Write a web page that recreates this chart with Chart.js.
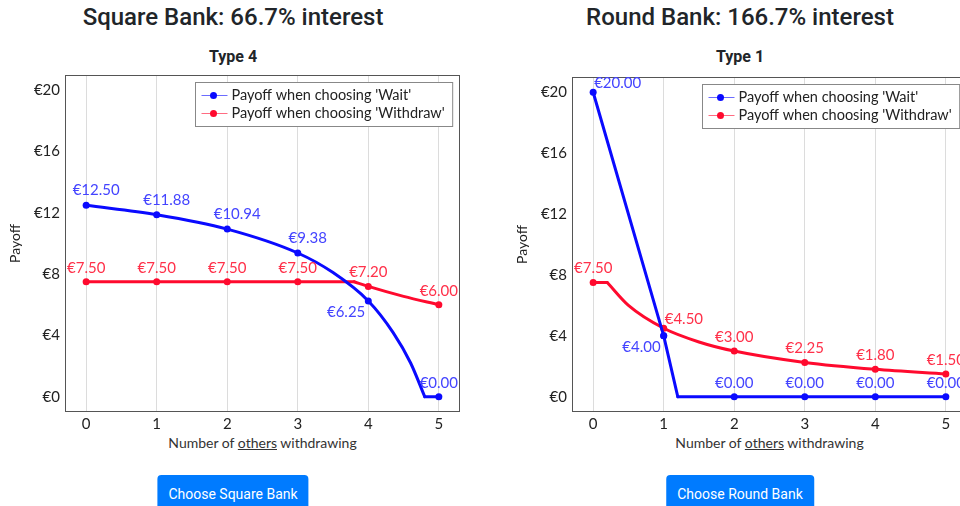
<!DOCTYPE html>
<html>
<head>
<meta charset="utf-8">
<script src="https://cdn.jsdelivr.net/npm/chart.js@4.4.0/dist/chart.umd.min.js"></script>
<style>
  html, body { margin: 0; padding: 0; background: #fff; }
  body { width: 960px; height: 506px; overflow: hidden; position: relative; font-family: Roboto, "Liberation Sans", sans-serif; color: #212529; }
  .col { position: absolute; top: 0; width: 466px; height: 506px; text-align: center; }
  .col h3 { margin: 0; font-size: 24px; font-weight: 500; line-height: 34px; }
  .col h4 { position: absolute; top: 47px; left: 0; right: 0; margin: 0; font-size: 16px; font-weight: 700; line-height: 20px; }
  .col button { position: absolute; top: 475px; left: 50%; transform: translateX(-50%); height: 38px; padding: 0 11px; border: none; border-radius: 4px; background: #007bff; color: #fff; font-family: Roboto, sans-serif; font-size: 14px; white-space: nowrap; }
  canvas { position: absolute; }
  .xtitle { position: absolute; top: 434px; width: 395px; text-align: center; font-family: Lato, sans-serif; font-size: 14px; line-height: 18px; color: #333; }
</style>
</head>
<body>
<div class="col" style="left:0">
  <h3>Square Bank: 66.7% interest</h3>
  <h4>Type 4</h4>
  <button>Choose Square Bank</button>
</div>
<div class="col" style="left:507px">
  <h3>Round Bank: 166.7% interest</h3>
  <h4>Type 1</h4>
  <button>Choose Round Bank</button>
</div>
<canvas id="squareChart" width="470" height="360" style="left:0;top:70px"></canvas>
<canvas id="roundChart" width="470" height="358" style="left:507px;top:72px"></canvas>
<div class="xtitle" style="left:65px">Number of <u>others</u> withdrawing</div>
<div class="xtitle" style="left:572px">Number of <u>others</u> withdrawing</div>
<script>
// x = number of others withdrawing, y = payoff in euro
const others = [0, 1, 2, 3, 4, 5];
const payoffTicks = [0, 4, 8, 12, 16, 20];

// Square Bank (Type 4)
const squareWaitX = [0, 1, 2, 3, 3.5, 4, 4.35, 4.6, 4.8, 5];
const squareWaitY = [12.5, 11.88, 10.94, 9.38, 8.1, 6.25, 4.2, 2.2, 0, 0];
const squareWithdrawX = [0, 1, 2, 3, 3.8, 4, 4.5, 5];
const squareWithdrawY = [7.5, 7.5, 7.5, 7.5, 7.5, 7.2, 6.55, 6.0];

// Round Bank (Type 1)
const roundWaitX = [0, 1, 1.2, 2, 3, 4, 5];
const roundWaitY = [20, 4, 0, 0, 0, 0, 0];
const roundWithdrawX = [0, 0.2, 0.5, 1, 1.5, 2, 3, 4, 5];
const roundWithdrawY = [7.5, 7.5, 6.0, 4.5, 3.6, 3.0, 2.25, 1.8, 1.5];

const BLUE = '#0a0aff';
const RED = '#ff0a2e';
const BLUE_TXT = '#4444ff';
const RED_TXT = '#ff3049';

Chart.defaults.font.family = 'Lato, sans-serif';
Chart.defaults.color = '#222';

// kinks = indexes where the curve has a corner (split into separate pieces)
function makeSeries(label, color, textColor, xs, ys, kinks, anchors) {
    return { label, color, textColor, xs, ys, kinks, anchors: anchors || {} };
}

function toDatasets(s) {
    const cuts = [0, ...s.kinks, s.xs.length - 1];
    const sets = [];
    for (let k = 0; k < cuts.length - 1; k++) {
        const data = [];
        for (let i = cuts[k]; i <= cuts[k + 1]; i++) {
            data.push({ x: s.xs[i], y: s.ys[i] });
        }
        sets.push({
            data: data,
            borderColor: s.color,
            backgroundColor: s.color,
            borderWidth: 3,
            borderCapStyle: 'round',
            borderJoinStyle: 'round',
            cubicInterpolationMode: 'monotone',
            pointRadius: ctx => (ctx.raw && others.includes(ctx.raw.x)) ? 3.5 : 0,
            pointHoverRadius: 0,
            pointBorderWidth: 0,
            pointBackgroundColor: s.color,
            fill: false
        });
    }
    return sets;
}

// frame, value labels and the legend box
function decor(seriesList) {
    return {
        id: 'decor',
        beforeDatasetsDraw(chart) {
            const a = chart.chartArea;
            const ctx = chart.ctx;
            ctx.save();
            ctx.strokeStyle = '#555';
            ctx.lineWidth = 1;
            ctx.strokeRect(a.left + 0.5, a.top + 0.5, a.right - a.left - 1, a.bottom - a.top - 1);
            ctx.restore();
        },
        afterDatasetsDraw(chart) {
            const ctx = chart.ctx;
            const xs = chart.scales.x, ys = chart.scales.y;
            ctx.save();
            ctx.font = '15px Lato';
            ctx.textBaseline = 'middle';
            seriesList.forEach(s => {
                ctx.fillStyle = s.textColor;
                s.xs.forEach((x, i) => {
                    if (!others.includes(x)) return;
                    const px = xs.getPixelForValue(x);
                    const py = ys.getPixelForValue(s.ys[i]);
                    const anchor = s.anchors[x] || 'above';
                    let tx = px, ty = py - 14;
                    ctx.textAlign = 'center';
                    if (anchor === 'aboveShift') { tx = px + 10; ty = py - 15; }
                    if (anchor === 'aboveRight') { tx = px + 1; ty = py - 9; ctx.textAlign = 'left'; }
                    if (anchor === 'belowLeft') { tx = px - 3; ty = py + 11; ctx.textAlign = 'right'; }
                    ctx.fillText('€' + s.ys[i].toFixed(2), tx, ty);
                });
            });

            // legend
            ctx.font = '14.5px Lato';
            const a = chart.chartArea;
            const tw = Math.max(...seriesList.map(s => ctx.measureText(s.label).width));
            const bw = 36 + tw + 8, bh = 44;
            const bx = Math.round(a.right - 8 - bw) + 0.5, by = a.top + 7.5;
            ctx.fillStyle = '#fff';
            ctx.fillRect(bx, by, bw, bh);
            ctx.strokeStyle = '#888';
            ctx.lineWidth = 1;
            ctx.strokeRect(bx, by, bw, bh);
            seriesList.forEach((s, i) => {
                const y = by + 13 + i * 18;
                ctx.globalAlpha = 0.6;
                ctx.strokeStyle = s.color;
                ctx.beginPath();
                ctx.moveTo(bx + 6, y);
                ctx.lineTo(bx + 32, y);
                ctx.stroke();
                ctx.globalAlpha = 1;
                ctx.fillStyle = s.color;
                ctx.beginPath();
                ctx.arc(bx + 18, y, 3.5, 0, Math.PI * 2);
                ctx.fill();
                ctx.fillStyle = '#222';
                ctx.textAlign = 'left';
                ctx.fillText(s.label, bx + 36, y);
            });
            ctx.restore();
        }
    };
}

function makeChart(id, seriesList) {
    const datasets = [];
    seriesList.forEach(s => datasets.push(...toDatasets(s)));
    return new Chart(document.getElementById(id), {
        type: 'line',
        data: { datasets: datasets },
        options: {
            responsive: false,
            animation: false,
            events: [],
            layout: { padding: { top: 5, right: 10, bottom: 0, left: 0 } },
            plugins: { legend: { display: false }, tooltip: { enabled: false } },
            scales: {
                x: {
                    type: 'linear',
                    min: -0.3,
                    max: 5.3,
                    afterBuildTicks: scale => { scale.ticks = others.map(v => ({ value: v })); },
                    afterFit: scale => { scale.height = 18; scale.paddingLeft = 0; scale.paddingRight = 0; },
                    ticks: { font: { size: 15 }, padding: 3, color: '#222', callback: v => String(v) },
                    grid: { color: '#dcdcdc', lineWidth: 1, drawTicks: false },
                    border: { display: false }
                },
                y: {
                    min: -1,
                    max: 21,
                    afterBuildTicks: scale => { scale.ticks = payoffTicks.map(v => ({ value: v })); },
                    afterFit: scale => { scale.width = 65; scale.paddingTop = 0; scale.paddingBottom = 0; },
                    ticks: { font: { size: 15 }, padding: 5, color: '#222', callback: v => '€' + v },
                    grid: { display: false, drawTicks: false },
                    border: { display: false },
                    title: { display: true, text: 'Payoff', font: { size: 14 }, color: '#222', padding: { top: 7, bottom: 0 } }
                }
            }
        },
        plugins: [decor(seriesList)]
    });
}

makeChart('squareChart', [
    makeSeries("Payoff when choosing 'Wait'", BLUE, BLUE_TXT, squareWaitX, squareWaitY, [8],
        { 0: 'aboveShift', 1: 'aboveShift', 2: 'aboveShift', 3: 'aboveShift', 4: 'belowLeft' }),
    makeSeries("Payoff when choosing 'Withdraw'", RED, RED_TXT, squareWithdrawX, squareWithdrawY, [4])
]);

makeChart('roundChart', [
    makeSeries("Payoff when choosing 'Wait'", BLUE, BLUE_TXT, roundWaitX, roundWaitY, [1, 2], { 0: 'aboveRight', 1: 'belowLeft' }),
    makeSeries("Payoff when choosing 'Withdraw'", RED, RED_TXT, roundWithdrawX, roundWithdrawY, [1], { 1: 'aboveRight' })
]);
</script>
</body>
</html>
